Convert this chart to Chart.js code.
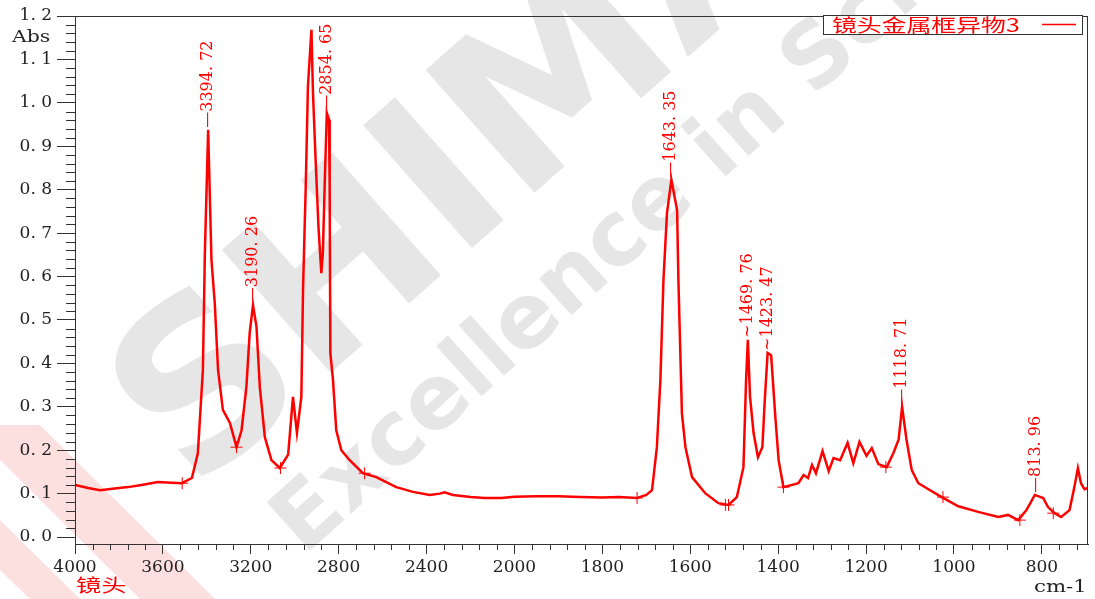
<!DOCTYPE html>
<html>
<head>
<meta charset="utf-8">
<script src="https://cdn.jsdelivr.net/npm/chart.js@4.4.0/dist/chart.umd.min.js"></script>
<style>
body { margin: 0; background: #fff; }
#wrap { width: 1095px; height: 599px; }
</style>
</head>
<body>
<div id="wrap"><canvas id="chart1" width="1095" height="599"></canvas></div>
<script>
// spectrum (cm-1 / Abs)
const wavenumbers = [4000, 3940, 3886, 3820, 3759, 3697, 3623, 3560, 3514, 3468, 3441, 3418, 3409, 3394,
  3379, 3364, 3349, 3327, 3295, 3265, 3242, 3220, 3205, 3190, 3174, 3159, 3136, 3106, 3068, 3030,
  3008, 2990, 2970, 2962, 2950, 2940, 2924, 2917, 2905, 2892, 2879, 2872, 2864, 2854, 2844, 2841,
  2838, 2826, 2811, 2788, 2750, 2690, 2629, 2538, 2462, 2386, 2340, 2318, 2280, 2200, 2136, 2060,
  2000, 1950, 1900, 1850, 1800, 1763, 1721, 1700, 1687, 1676, 1668, 1661, 1653, 1643, 1630, 1627,
  1619, 1611, 1596, 1566, 1536, 1513, 1494, 1479, 1473, 1469, 1464, 1456, 1446, 1436, 1430, 1424,
  1416, 1407, 1399, 1388, 1354, 1342, 1332, 1323, 1314, 1299, 1285, 1274, 1259, 1242, 1229, 1215,
  1199, 1187, 1172, 1153, 1138, 1126, 1118, 1108, 1096, 1081, 1028, 990, 945, 899, 877, 854, 835,
  816, 797, 786, 771, 756, 737, 726, 718, 711, 703, 696];
const absorbance = [0.120, 0.113, 0.108, 0.112, 0.115, 0.120, 0.127, 0.125, 0.124, 0.136, 0.193, 0.385, 0.654, 0.938,
  0.638, 0.539, 0.385, 0.293, 0.263, 0.207, 0.246, 0.346, 0.470, 0.534, 0.484, 0.346, 0.230, 0.177, 0.159, 0.190,
  0.323, 0.240, 0.323, 0.576, 0.806, 1.037, 1.168, 1.023, 0.869, 0.714, 0.608, 0.654, 0.806, 0.977, 0.961, 0.806,
  0.424, 0.362, 0.246, 0.200, 0.177, 0.147, 0.138, 0.115, 0.104, 0.097, 0.100, 0.103, 0.097, 0.092, 0.090, 0.090,
  0.093, 0.094, 0.094, 0.092, 0.091, 0.092, 0.090, 0.097, 0.108, 0.207, 0.362, 0.592, 0.746, 0.823, 0.753, 0.592,
  0.285, 0.207, 0.138, 0.101, 0.078, 0.074, 0.092, 0.161, 0.362, 0.454, 0.323, 0.240, 0.184, 0.207, 0.323, 0.424,
  0.419, 0.285, 0.177, 0.115, 0.124, 0.143, 0.136, 0.166, 0.147, 0.198, 0.152, 0.182, 0.177, 0.217, 0.170, 0.219,
  0.187, 0.205, 0.168, 0.161, 0.193, 0.224, 0.300, 0.224, 0.154, 0.124, 0.092, 0.071, 0.058, 0.046, 0.051, 0.039, 0.062,
  0.097, 0.090, 0.069, 0.055, 0.046, 0.062, 0.115, 0.159, 0.124, 0.110, 0.113];

// baseline "+" marks
const markWavenumbers = [3512, 3265, 3065, 2682, 1721, 1520, 1513, 1388, 1155, 1025, 850, 774];
const markAbs = [0.124, 0.207, 0.159, 0.147, 0.090, 0.074, 0.074, 0.115, 0.161, 0.092, 0.039, 0.055];

// peak picks
const peakWavenumbers = [3394.72, 3190.26, 2854.65, 1643.35, 1469.76, 1423.47, 1118.71, 813.96];
const peakAbs = [0.938, 0.534, 0.977, 0.823, 0.454, 0.424, 0.300, 0.097];
const peakLabels = ['3394. 72', '3190. 26', '2854. 65', '1643. 35', '1469. 76', '1423. 47', '1118. 71', '813. 96'];
const peakLeaders = ['—', '—', '—', '—', '~', '~', '—', '—'];

const seriesName = '镜头金属框异物3';

// the instrument axis is squeezed 2:1 above 2000 cm-1
function toU(w) { return w >= 2000 ? (4000 - w) / 2 : 1000 + (2000 - w); }
function fromU(u) { return u <= 1000 ? 4000 - 2 * u : 2000 - (u - 1000); }

const tickFont = { family: 'DejaVu Serif', size: 17 };

const watermark = {
  id: 'watermark',
  beforeDraw(chart) {
    const ctx = chart.ctx;
    ctx.save();
    // pink logo, bottom left
    ctx.fillStyle = 'rgba(252, 218, 218, 0.85)';
    ctx.beginPath();
    ctx.moveTo(0, 425); ctx.lineTo(40, 425); ctx.lineTo(215, 599); ctx.lineTo(140, 599);
    ctx.lineTo(0, 460); ctx.closePath(); ctx.fill();
    ctx.beginPath();
    ctx.moveTo(0, 520); ctx.lineTo(80, 599); ctx.lineTo(30, 599); ctx.lineTo(0, 570);
    ctx.closePath(); ctx.fill();
    ctx.fillStyle = '#e6e6e6';
    ctx.font = 'bold 225px "DejaVu Sans"';
    ctx.translate(194, 494);
    ctx.rotate(-41.5 * Math.PI / 180);
    ctx.fillText('SHIMADZU', 0, 0);
    ctx.restore();
    ctx.save();
    ctx.fillStyle = '#e6e6e6';
    ctx.font = 'bold 89px "DejaVu Sans"';
    ctx.translate(304, 556);
    ctx.rotate(-42 * Math.PI / 180);
    ctx.fillText('Excellence in Science', 0, 0);
    ctx.restore();
  }
};

function stretchedText(ctx, text, x, y, sx) {
  ctx.save();
  ctx.translate(x, y);
  ctx.scale(sx, 1);
  ctx.fillText(text, 0, 0);
  ctx.restore();
}

const decorations = {
  id: 'decorations',
  afterDraw(chart) {
    const ctx = chart.ctx;
    const a = chart.chartArea;
    const xs = chart.scales.x, ys = chart.scales.y;
    ctx.save();
    ctx.strokeStyle = '#333';
    ctx.lineWidth = 1;
    ctx.strokeRect(a.left + 0.5, a.top + 0.5, a.right - a.left - 1, a.bottom - a.top);
    // minor ticks
    ctx.beginPath();
    for (let u = 40; u < xs.max; u += 40) {
      if (u % 200 === 0) continue;
      const px = Math.round(xs.getPixelForValue(u)) + 0.5;
      ctx.moveTo(px, a.bottom); ctx.lineTo(px, a.bottom + 6);
    }
    for (let i = 1; i <= 60; i++) {
      if (i % 5 === 0) continue;
      const py = Math.round(ys.getPixelForValue(i * 0.02)) + 0.5;
      ctx.moveTo(a.left - 9, py); ctx.lineTo(a.left, py);
    }
    ctx.stroke();

    // peak labels
    ctx.fillStyle = '#ff0000';
    ctx.font = '16px "DejaVu Serif"';
    ctx.textAlign = 'left';
    ctx.textBaseline = 'middle';
    peakWavenumbers.forEach((w, i) => {
      const px = xs.getPixelForValue(toU(w));
      const py = ys.getPixelForValue(peakAbs[i]);
      ctx.save();
      ctx.translate(px, py - 2);
      ctx.rotate(-Math.PI / 2);
      ctx.fillText(peakLeaders[i] + peakLabels[i], 0, 0);
      ctx.restore();
    });

    // axis titles
    ctx.fillStyle = '#222';
    ctx.font = '17px "DejaVu Serif"';
    ctx.textAlign = 'left';
    stretchedText(ctx, 'Abs', 12, 38, 1.2);
    stretchedText(ctx, 'cm-1', 1034, 588, 1.25);
    ctx.fillStyle = '#ff0000';
    ctx.font = '18px "Noto Sans CJK SC"';
    stretchedText(ctx, '镜头', 76, 585, 1.4);

    // legend box
    ctx.fillStyle = '#fff';
    ctx.fillRect(823, 15, 259, 19);
    ctx.strokeStyle = '#333';
    ctx.strokeRect(823.5, 15.5, 259, 19);
    ctx.fillStyle = '#ff0000';
    ctx.font = '18px "Noto Sans CJK SC"';
    stretchedText(ctx, seriesName, 832, 25, 1.38);
    ctx.strokeStyle = '#ff0000';
    ctx.lineWidth = 1.5;
    ctx.beginPath();
    ctx.moveTo(1042, 24.5); ctx.lineTo(1076, 24.5);
    ctx.stroke();
    ctx.restore();
  }
};

const config = {
  type: 'line',
  data: {
    datasets: [{
      label: seriesName,
      data: wavenumbers.map((w, i) => ({ x: toU(w), y: absorbance[i] })),
      borderColor: '#ff0000',
      borderWidth: 2.5,
      pointRadius: 0,
      tension: 0,
      fill: false
    }, {
      label: 'marks',
      type: 'scatter',
      data: markWavenumbers.map((w, i) => ({ x: toU(w), y: markAbs[i] })),
      pointStyle: 'cross',
      pointRadius: 6,
      borderColor: '#ff0000',
      borderWidth: 1
    }]
  },
  options: {
    responsive: false,
    animation: false,
    events: [],
    layout: { padding: { top: 16, right: 6, left: 0, bottom: 0 } },
    plugins: {
      legend: { display: false },
      title: { display: false },
      tooltip: { enabled: false }
    },
    scales: {
      x: {
        type: 'linear',
        min: 0,
        max: 2305,
        afterFit: (s) => { s.height = 55; },
        border: { display: true, color: '#333', width: 1 },
        grid: { drawOnChartArea: false, drawTicks: true, tickLength: 10, color: '#333' },
        ticks: {
          stepSize: 200,
          includeBounds: false,
          autoSkip: false,
          maxRotation: 0,
          padding: 3,
          color: '#222',
          font: tickFont,
          callback: (u) => String(fromU(u))
        }
      },
      y: {
        type: 'linear',
        min: -0.016,
        max: 1.2,
        afterFit: (s) => { s.width = 75; },
        border: { display: true, color: '#333', width: 1 },
        grid: { drawOnChartArea: false, drawTicks: true, tickLength: 18, color: '#333' },
        ticks: {
          stepSize: 0.1,
          includeBounds: false,
          padding: 5,
          color: '#222',
          font: tickFont,
          callback: (v) => v.toFixed(1).replace('.', '. ')
        }
      }
    }
  },
  plugins: [watermark, decorations]
};

var myChart = new Chart(document.getElementById('chart1'), config);
</script>
</body>
</html>
